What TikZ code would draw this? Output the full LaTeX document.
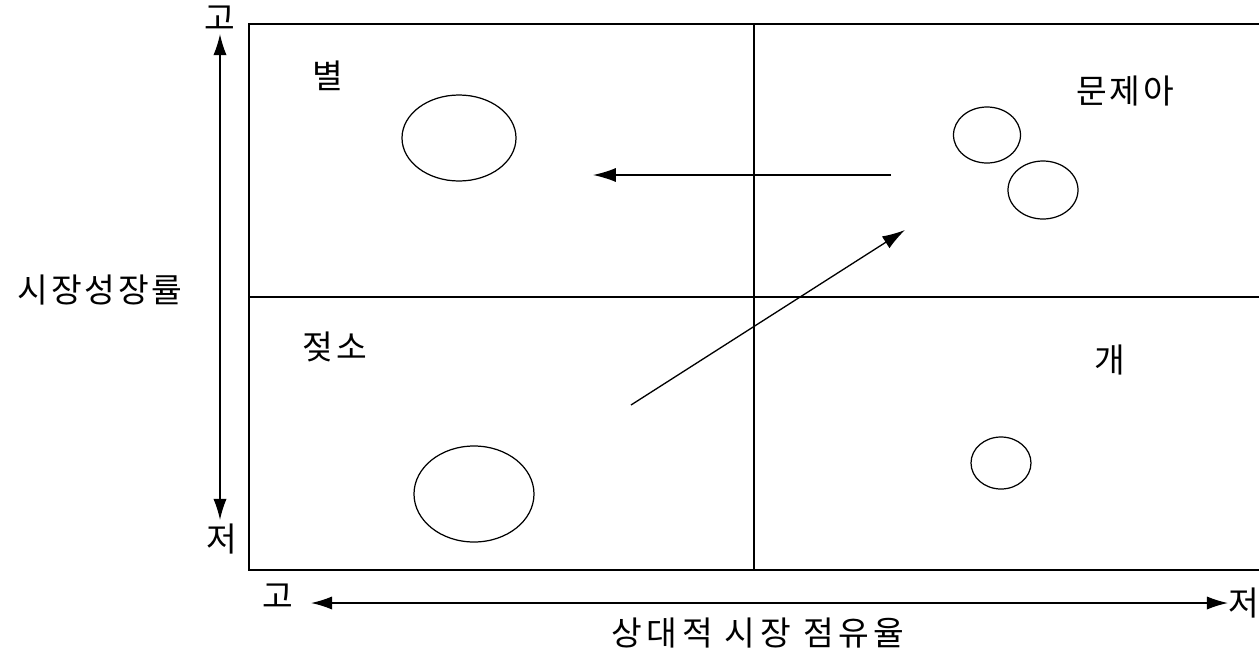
\documentclass[tikz,border=0pt]{standalone}
\usepackage{fontspec}
\newfontfamily\kr{Noto Sans CJK KR}
\usepackage{tikz}
\usetikzlibrary{positioning,shapes.geometric,arrows.meta}

\tikzset{
  frame/.style={line width=0.8pt},
  bubble/.style={draw,ellipse,line width=0.7pt,inner sep=0pt},
  move/.style={line width=0.75pt,-{Latex[length=13pt,width=8pt]}},
  axis/.style={line width=0.8pt,{Latex[length=12pt,width=7.5pt]}-{Latex[length=12pt,width=7.5pt]}},
  lab/.style={font=\kr\fontsize{19}{21}\selectfont,inner sep=0pt},
  spaced/.style={font=\kr\fontsize{19}{21}\selectfont\addfontfeature{LetterSpace=#1}},
}

\begin{document}
\begin{tikzpicture}[x=0.02cm,y=-0.02cm]
  % pixel grid of the reference, y runs downwards
  \useasboundingbox (0,0) rectangle (1259,650);
  % matrix frame (runs off the right edge)
  \draw[frame] (1259,24) -- (249,24) -- (249,570) -- (1259,570);
  \draw[frame] (754,24) -- (754,570);
  \draw[frame] (249,297) -- (1259,297);
  % axes
  \coordinate (ytop) at (220,34);
  \coordinate (ybot) at (220,520);
  \coordinate (xlft) at (311,603);
  \coordinate (xrgt) at (1228,603);
  \draw[axis] (ytop) -- (ybot);
  \draw[axis] (xlft) -- (xrgt);
  \node[lab] (yhi) at (220,18) {고};
  \node[lab] (ylo) at (222,539) {저};
  \node[lab] (xhi) at (278,596) {고};
  \node[lab] (xlo) at (1244,603) {저};
  \node[lab,spaced=8] (ylab) at (100,290) {시장성장률};
  \node[lab,spaced=14] (xlab) at (758,633) {상대적 시장 점유율};
  % quadrant names
  \node[lab] (star) at (328,76) {별};
  \node[lab,spaced=8] (qmark) at (1125,91) {문제아};
  \node[lab,spaced=8] (cow) at (335,347) {젖소};
  \node[lab] (dog) at (1110,360) {개};
  % products:  name  x  y  width  height
  \foreach \nm/\x/\y/\w/\h in {
     s1/459/138/114/86,
     q1/987/135/67/56,
     q2/1043/190/70/58,
     c1/474/494/120/96,
     d1/1001/463/60/52}
    \node[bubble,minimum width=\w*0.02cm,minimum height=\h*0.02cm] (\nm) at (\x,\y) {};
  % movements
  \coordinate (m1s) at (891,175);
  \coordinate (m1e) at (593,175);
  \coordinate (m2s) at (631,405);
  \coordinate (m2e) at (905,230);
  \draw[move] (m1s) -- (m1e);
  \draw[move] (m2s) -- (m2e);
\end{tikzpicture}
\end{document}
